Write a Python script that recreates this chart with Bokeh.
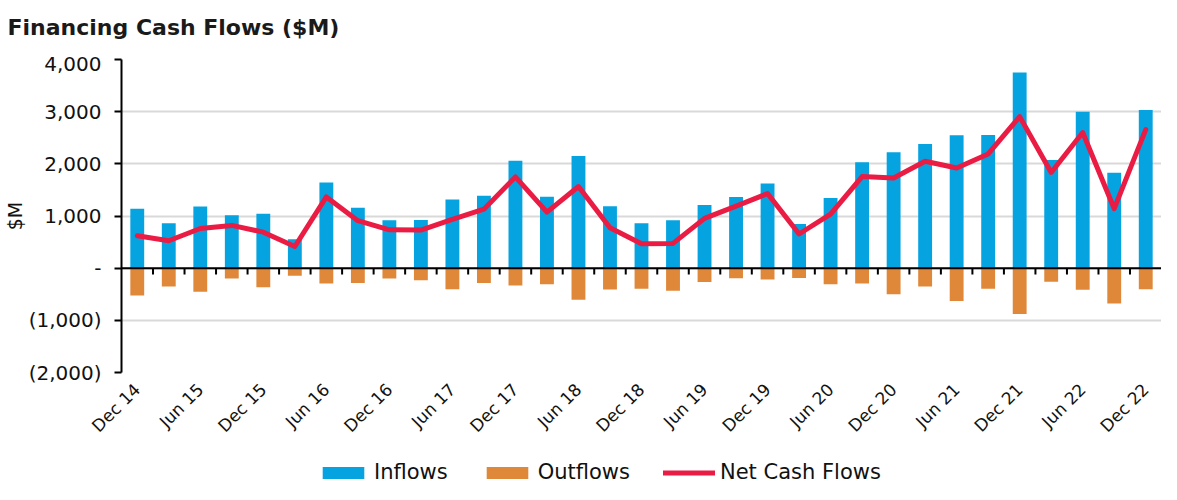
from math import pi
from bokeh.plotting import figure
from bokeh.layouts import column
from bokeh.models import (Range1d, FixedTicker, Span, Legend, LegendItem)
from bokeh.embed import file_html
from bokeh.resources import INLINE

quarters = ["Dec 14", "Mar 15", "Jun 15", "Sep 15", "Dec 15", "Mar 16", "Jun 16", "Sep 16",
            "Dec 16", "Mar 17", "Jun 17", "Sep 17", "Dec 17", "Mar 18", "Jun 18", "Sep 18",
            "Dec 18", "Mar 19", "Jun 19", "Sep 19", "Dec 19", "Mar 20", "Jun 20", "Sep 20",
            "Dec 20", "Mar 21", "Jun 21", "Sep 21", "Dec 21", "Mar 22", "Jun 22", "Sep 22",
            "Dec 22"]

inflows = [1140, 860, 1180, 1015, 1045, 555, 1640, 1160, 920, 925, 1315, 1390, 2060, 1370,
           2150, 1185, 860, 920, 1210, 1365, 1625, 845, 1345, 2030, 2220, 2380, 2550, 2555,
           3750, 2075, 3000, 1830, 3030]

outflows = [-525, -350, -450, -200, -365, -145, -295, -285, -200, -230, -405, -285, -330,
            -310, -605, -410, -395, -435, -265, -195, -215, -190, -310, -295, -500, -350,
            -630, -395, -880, -260, -415, -675, -405]

net_flows = [620, 525, 760, 820, 690, 415, 1365, 910, 735, 730, 935, 1130, 1750, 1075, 1565,
             775, 470, 475, 955, 1190, 1430, 655, 1035, 1755, 1730, 2050, 1920, 2190, 2905,
             1835, 2600, 1140, 2655]

y_ticks = [-2000, -1000, 0, 1000, 2000, 3000, 4000]
y_tick_labels = ["(2,000)", "(1,000)", "-", "1,000", "2,000", "3,000", "4,000"]

series_names = ["Inflows", "Outflows", "Net Cash Flows"]
chart_title = "Financing Cash Flows ($M)"

FONT = "DejaVu Sans"
BLUE = "#05A3E0"
ORANGE = "#E0883A"
RED = "#EA1C44"
TXT = "#111111"

n = len(quarters)
xs = list(range(n))
W = 1161

# ---- title strip ----
tt = figure(width=W, height=51, output_backend="svg", toolbar_location=None,
            x_axis_location=None, y_axis_location=None,
            x_range=Range1d(0, 1), y_range=Range1d(0, 1),
            min_border_left=0, min_border_right=0, min_border_top=0, min_border_bottom=0)
tt.grid.visible = False
tt.outline_line_color = None
tt.title.text = chart_title
tt.title.text_font = FONT
tt.title.text_font_size = "22px"
tt.title.text_font_style = "bold"
tt.title.text_color = "#1a1a1a"
tt.title.align = "left"
tt.title.offset = -114
tt.title.standoff = 24

# ---- main chart ----
p = figure(width=W, height=400, output_backend="svg", toolbar_location=None,
           title=None,
           x_range=Range1d(-0.5, n - 0.5), y_range=Range1d(-2000, 4000),
           min_border_left=116, min_border_right=0, min_border_bottom=79,
           min_border_top=8)
p.outline_line_color = None

p.xgrid.grid_line_color = None
p.ygrid.grid_line_color = "#d9d9d9"
p.ygrid.grid_line_width = 2
p.yaxis.ticker = FixedTicker(ticks=y_ticks)
p.yaxis.major_label_overrides = {v: l for v, l in zip(y_ticks, y_tick_labels)}
p.yaxis.axis_line_color = "black"
p.yaxis.axis_line_width = 2
p.yaxis.major_tick_line_color = "black"
p.yaxis.major_tick_line_width = 2
p.yaxis.major_tick_out = 7
p.yaxis.major_tick_in = 0
p.yaxis.minor_tick_line_color = None
p.yaxis.major_label_text_font = FONT
p.yaxis.major_label_text_font_size = "20px"
p.yaxis.major_label_text_color = TXT
p.yaxis.major_label_standoff = 13
p.yaxis.axis_label = "$M"
p.yaxis.axis_label_text_font = FONT
p.yaxis.axis_label_text_font_size = "19px"
p.yaxis.axis_label_text_font_style = "normal"
p.yaxis.axis_label_text_color = TXT
p.yaxis.axis_label_standoff = 0

p.xaxis.ticker = FixedTicker(ticks=xs[::2])
p.xaxis.major_label_overrides = {i: quarters[i] for i in xs[::2]}
p.xaxis.major_label_orientation = pi / 4
p.xaxis.axis_line_color = None
p.xaxis.major_tick_line_color = None
p.xaxis.minor_tick_line_color = None
p.xaxis.major_label_text_font = FONT
p.xaxis.major_label_text_font_size = "17px"
p.xaxis.major_label_text_color = TXT
p.xaxis.major_label_standoff = 8

p.vbar(x=xs, top=inflows, bottom=0, width=0.44, fill_color=BLUE, line_color=None)
p.vbar(x=xs, top=0, bottom=outflows, width=0.44, fill_color=ORANGE, line_color=None)

p.add_layout(Span(location=0, dimension="width", line_color="black", line_width=2))
tick_x = [i + 0.5 for i in xs[:-1]]
p.segment(x0=tick_x, y0=[0] * len(tick_x), x1=tick_x, y1=[-120] * len(tick_x),
          line_color="black", line_width=2)

p.line(x=xs, y=net_flows, line_color=RED, line_width=5, line_join="round",
       line_cap="round")

# ---- legend strip (series drawn out of its view; only the legend shows) ----
lg = figure(width=W, height=33, output_backend="svg", toolbar_location=None,
            title=None, x_axis_location=None, y_axis_location=None,
            x_range=Range1d(-0.5, n - 0.5), y_range=Range1d(100000, 100001),
            min_border_left=0, min_border_right=0, min_border_top=0, min_border_bottom=0)
lg.grid.visible = False
lg.outline_line_color = None
l_in = lg.vbar(x=xs, top=inflows, bottom=0, width=0.44, fill_color=BLUE, line_color=None)
l_out = lg.vbar(x=xs, top=0, bottom=outflows, width=0.44, fill_color=ORANGE, line_color=None)
l_net = lg.line(x=xs, y=net_flows, line_color=RED, line_width=5, line_cap="round")

legend = Legend(items=[LegendItem(label=series_names[0], renderers=[l_in]),
                       LegendItem(label=series_names[1], renderers=[l_out]),
                       LegendItem(label=series_names[2], renderers=[l_net])],
                orientation="horizontal", location=(196, 0))
legend.label_text_font = FONT
legend.label_text_font_size = "21px"
legend.label_text_color = TXT
legend.glyph_width = 52
legend.glyph_height = 15
legend.label_standoff = 5
legend.spacing = 33
legend.padding = 0
legend.margin = 0
legend.border_line_color = None
legend.background_fill_alpha = 0
lg.add_layout(legend, "center")

layout = column(tt, p, lg, spacing=0)
open("out.html", "w").write(file_html(layout, INLINE))
